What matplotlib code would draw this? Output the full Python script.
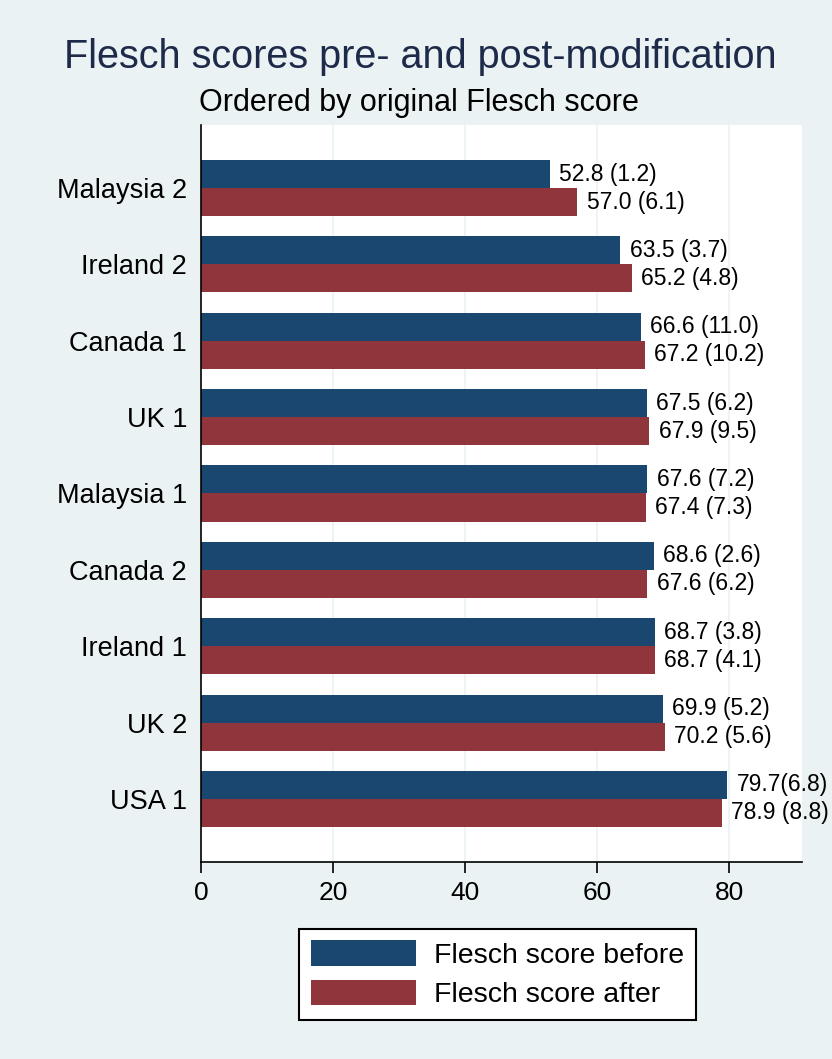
import matplotlib.pyplot as plt

plt.rcParams['font.family'] = ['Liberation Sans', 'DejaVu Sans']

countries = ['Malaysia 2', 'Ireland 2', 'Canada 1', 'UK 1', 'Malaysia 1',
             'Canada 2', 'Ireland 1', 'UK 2', 'USA 1']
before = [52.8, 63.5, 66.6, 67.5, 67.6, 68.6, 68.7, 69.9, 79.7]
after = [57.0, 65.2, 67.2, 67.9, 67.4, 67.6, 68.7, 70.2, 78.9]
labels_before = ['52.8 (1.2)', '63.5 (3.7)', '66.6 (11.0)', '67.5 (6.2)', '67.6 (7.2)',
                 '68.6 (2.6)', '68.7 (3.8)', '69.9 (5.2)', '79.7(6.8)']
labels_after = ['57.0 (6.1)', '65.2 (4.8)', '67.2 (10.2)', '67.9 (9.5)', '67.4 (7.3)',
                '67.6 (6.2)', '68.7 (4.1)', '70.2 (5.6)', '78.9 (8.8)']

navy = '#1A476F'
maroon = '#90353B'
bg = '#EAF2F3'

fig = plt.figure(figsize=(8.32, 10.59), dpi=100, facecolor=bg)
ax = fig.add_axes([0.2416, 0.186, 0.7224, 0.696])
ax.set_facecolor('white')

h = 0.367
pos = list(range(len(countries)))
ax.barh([p - h / 2 for p in pos], before, height=h, color=navy, label='Flesch score before')
ax.barh([p + h / 2 for p in pos], after, height=h, color=maroon, label='Flesch score after')

for p, b, a, lb, la in zip(pos, before, after, labels_before, labels_after):
    ax.text(b + 1.4, p - h / 2, lb, va='center', ha='left', fontsize=16.5, clip_on=False)
    ax.text(a + 1.4, p + h / 2, la, va='center', ha='left', fontsize=16.5, clip_on=False)

ax.set_ylim(8.826, -0.826)
ax.set_xlim(0, 91)
ax.set_yticks(pos)
ax.set_yticklabels(countries, fontsize=19.5)
ax.set_xticks([0, 20, 40, 60, 80])
ax.tick_params(axis='x', labelsize=19, length=8, width=1.2, pad=6)
ax.tick_params(axis='y', length=0, pad=10)

for x in [20, 40, 60, 80]:
    ax.axvline(x, color=bg, lw=1.2, zorder=0)

for s in ['top', 'right']:
    ax.spines[s].set_visible(False)
ax.spines['left'].set_linewidth(1.2)
ax.spines['bottom'].set_linewidth(1.2)

fig.text(0.505, 0.946, 'Flesch scores pre- and post-modification', ha='center', va='center',
         fontsize=28.5, color='#1E2A4A')
fig.text(0.503, 0.903, 'Ordered by original Flesch score', ha='center', va='center',
         fontsize=22, color='black')

leg = fig.legend(loc='center', bbox_to_anchor=(0.598, 0.080), fontsize=20.5, frameon=True,
                 fancybox=False, edgecolor='black', framealpha=1, handlelength=3.7,
                 handleheight=1.0, handletextpad=0.65, labelspacing=0.4, borderpad=0.4)
leg.get_frame().set_linewidth(1.5)

fig.savefig('out.png', dpi=100, facecolor=bg)
